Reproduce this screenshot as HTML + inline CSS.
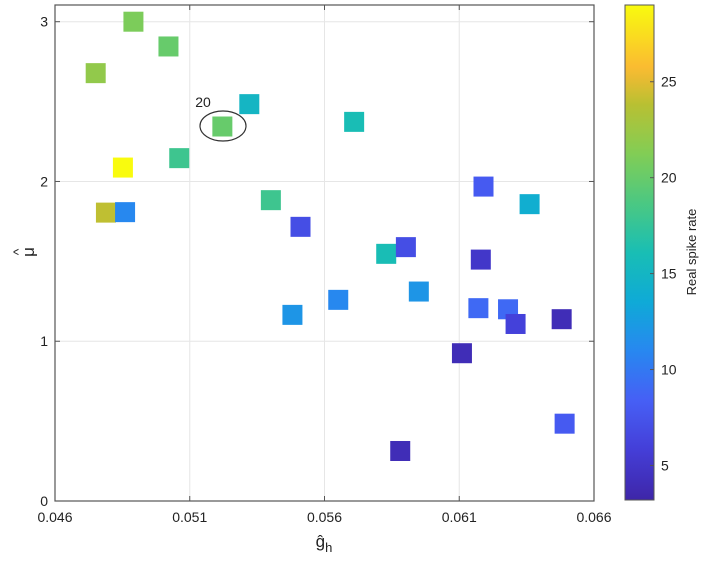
<!DOCTYPE html>
<html><head><meta charset="utf-8"><style>
body{margin:0;background:#fff;}
svg text{font-family:"Liberation Sans",Arial,sans-serif;fill:#222;}
</style></head><body>
<svg id="chart" width="708" height="566" xmlns="http://www.w3.org/2000/svg">
<defs><linearGradient id="cb" x1="0" y1="1" x2="0" y2="0"></linearGradient></defs>
<g id="grid"></g>
<g id="pts"></g>
<g id="axes"></g>
</svg>
<script>
const xVals=[0.04891,0.05021,0.04751,0.05321,0.05221,0.05710,0.04852,0.05061,0.06190,0.06361,0.04789,0.04860,0.05401,0.05511,0.05829,0.05902,0.06180,0.05950,0.05651,0.05481,0.06171,0.06281,0.06309,0.06480,0.06110,0.06491,0.05881];
const yVals=[3.00,2.845,2.678,2.484,2.344,2.373,2.087,2.146,1.968,1.858,1.805,1.808,1.883,1.716,1.547,1.589,1.511,1.311,1.259,1.165,1.207,1.20,1.108,1.138,0.925,0.484,0.313];
const rates=[21,20,22,15,20,16,29,18,8,14,24,11,18,7,16,7,5,12,11,12,9,9,6,4,4,8,4];
const xTicks=[0.046,0.051,0.056,0.061,0.066];
const yTicks=[0,1,2,3];
const cTicks=[5,10,15,20,25];
const L=55,R=594,T=5,B=501,xMin=0.046,xMax=0.066,yMin=0,yMax=3.0;
const cMin=3.2,cMax=29,cbL=625,cbR=654,cbT=5,cbB=500;
const sx=v=>L+(v-xMin)/(xMax-xMin)*(R-L);
const sy=v=>B-(v-yMin)/(yMax-yMin)*(B-21.7);
const sc=v=>cbB-(v-cMin)/(cMax-cMin)*(cbB-cbT);
const stops=[[0,[62,38,168]],[0.1,[68,62,215]],[0.2,[70,95,245]],[0.3,[40,135,240]],[0.4,[15,170,215]],[0.5,[25,190,180]],[0.6,[75,200,130]],[0.7,[130,205,85]],[0.8,[185,192,50]],[0.87,[250,185,50]],[1,[249,251,14]]];
function parula(v){let t=Math.max(0,Math.min(1,(v-cMin)/(cMax-cMin)));for(let i=1;i<stops.length;i++){if(t<=stops[i][0]){const a=stops[i-1],b=stops[i];const f=(t-a[0])/(b[0]-a[0]);return 'rgb('+a[1].map((c,k)=>Math.round(c+(b[1][k]-c)*f)).join(',')+')';}}return 'rgb(249,251,14)';}
const NS='http://www.w3.org/2000/svg';
function mk(tag,at,parent){const e=document.createElementNS(NS,tag);for(const k in at)e.setAttribute(k,at[k]);parent.appendChild(e);return e;}
const grid=document.getElementById('grid'),pts=document.getElementById('pts'),axes=document.getElementById('axes');
const grad=document.getElementById('cb');
for(let i=0;i<=40;i++){const v=cMin+(cMax-cMin)*i/40;mk('stop',{offset:(i/40),'stop-color':parula(v)},grad);}
xTicks.forEach(v=>{const l=mk('line',{x1:sx(v),x2:sx(v),y1:T,y2:B,stroke:'#e6e6e6'},grid);

});
yTicks.forEach(v=>{const l=mk('line',{x1:L,x2:R,y1:sy(v),y2:sy(v),stroke:'#e6e6e6'},grid);

});
xVals.forEach((x,i)=>{const r=mk('rect',{x:sx(x)-10,y:sy(yVals[i])-10,width:20,height:20,fill:parula(rates[i])},pts);

});
const fr=mk('rect',{x:L,y:T,width:R-L,height:B-T,fill:'none',stroke:'#555','stroke-width':1.2},axes);


xTicks.forEach(v=>{mk('line',{x1:sx(v),x2:sx(v),y1:B,y2:B-5,stroke:'#555'},axes);mk('line',{x1:sx(v),x2:sx(v),y1:T,y2:T+5,stroke:'#555'},axes);
const t=mk('text',{x:sx(v),y:B+21,'text-anchor':'middle','font-size':14},axes);t.textContent=v.toFixed(3);

});
yTicks.forEach(v=>{mk('line',{x1:L,x2:L+5,y1:sy(v),y2:sy(v),stroke:'#555'},axes);mk('line',{x1:R,x2:R-5,y1:sy(v),y2:sy(v),stroke:'#555'},axes);
const t=mk('text',{x:L-7,y:sy(v)+5,'text-anchor':'end','font-size':14},axes);t.textContent=v;

});
const cbr=mk('rect',{x:cbL,y:cbT,width:cbR-cbL,height:cbB-cbT,fill:'url(#cb)',stroke:'#555'},axes);


cTicks.forEach(v=>{mk('line',{x1:cbR-4,x2:cbR,y1:sc(v),y2:sc(v),stroke:'#555'},axes);
const t=mk('text',{x:cbR+7,y:sc(v)+5,'font-size':14},axes);t.textContent=v;

});
</script>
<svg width="708" height="566" style="position:absolute;left:0;top:0" xmlns="http://www.w3.org/2000/svg">
<text x="203" y="107" font-size="14" text-anchor="middle">20</text>
<ellipse cx="223" cy="126" rx="23" ry="15" fill="none" stroke="#333" stroke-width="1.2"/>
<text x="324" y="547" font-size="17" text-anchor="middle">ĝ<tspan font-size="13" dy="5">h</tspan></text>
<g transform="translate(34,252) rotate(-90)">
<text x="0" y="0" font-size="17" text-anchor="middle">μ</text>
<text x="0" y="-11" font-size="14" text-anchor="middle" transform="translate(0,0)">^</text>
</g>
<text transform="translate(696,252) rotate(-90)" font-size="13" text-anchor="middle">Real spike rate</text>
</svg>
</body></html>
